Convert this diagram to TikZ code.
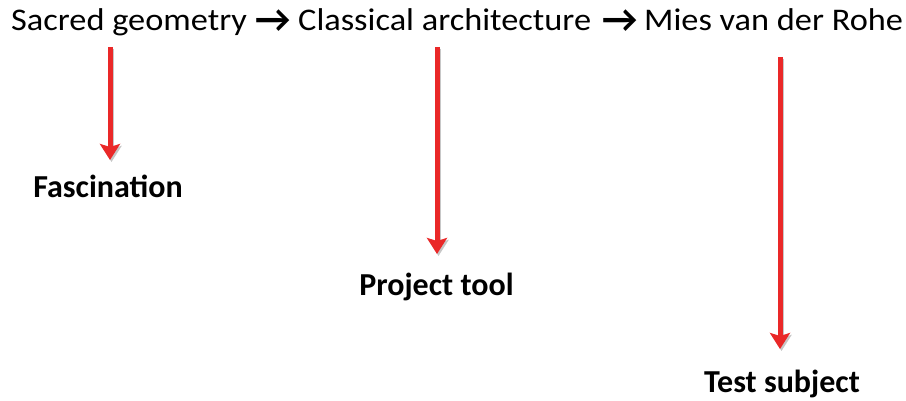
\documentclass[tikz,border=0pt]{standalone}
\usepackage{fontspec}
\setmainfont{Carlito}
\newfontfamily\widefont[FakeStretch=1.09]{Carlito}
\usetikzlibrary{arrows.meta,calc}
\definecolor{arrowred}{RGB}{234,40,40}
\tikzset{
  x=1pt, y=-1pt,
  chain/.style={font=\widefont\fontsize{31.5}{38}\selectfont, inner sep=0pt, anchor=base west},
  link/.style={font=\fontsize{39}{44}\selectfont\bfseries, inner sep=0pt, anchor=base},
  result/.style={font=\fontsize{32}{38}\selectfont\bfseries, inner sep=0pt, anchor=base},
  downarrow/.style={draw=arrowred, line width=5pt,
    -{Stealth[length=16pt,width=20pt,inset=3pt]}},
  shade/.style={draw=black!22, line width=5pt,
    -{Stealth[length=16pt,width=20pt,inset=3pt]}}
}
\begin{document}
\begin{tikzpicture}
  \useasboundingbox (0,0) rectangle (906,401);
  % top line: the chain of influences
  \node[chain] (s1) at (11,31) {Sacred geometry};
  \node[link]  (a1) at (273,33) {→};
  \node[chain] (s2) at (298,31) {Classical architecture};
  \node[link]  (a2) at (620,33) {→};
  \node[chain] (s3) at (644,31) {Mies van der Rohe};
  % outcomes
  \node[result] (r1) at (108,198) {Fascination};
  \node[result] (r2) at (436.5,295) {Project tool};
  \node[result] (r3) at (782,392) {Test subject};
  % anchors for the arrow ends
  \coordinate (t1) at (110,47);
  \coordinate (b1) at (110,160);
  \coordinate (t2) at (437,47);
  \coordinate (b2) at (437,254);
  \coordinate (t3) at (780,57);
  \coordinate (b3) at (780,349);
  % soft shadows, then the red arrows
  \foreach \i in {1,2,3} {
    \draw[shade] ($(t\i)+(1.5,2)$) -- ($(b\i)+(1.5,2)$);
    \draw[downarrow] (t\i) -- (b\i);
  }
\end{tikzpicture}
\end{document}
